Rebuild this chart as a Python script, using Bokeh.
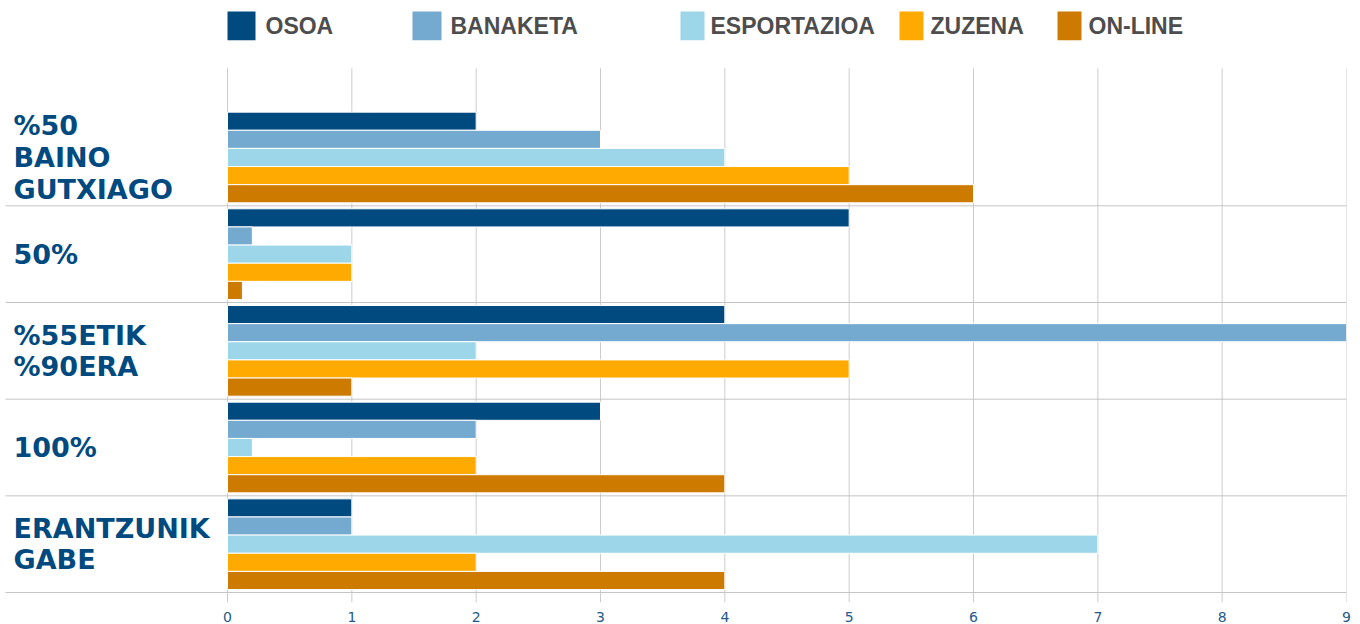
from bokeh.plotting import figure
from bokeh.models import Range1d, FixedTicker, ColumnDataSource
from bokeh.core.properties import value
from bokeh.embed import file_html
from bokeh.resources import INLINE

# ---- data ----
categories = ["%50\nBAINO\nGUTXIAGO", "50%", "%55ETIK\n%90ERA", "100%", "ERANTZUNIK\nGABE"]
series = ["OSOA", "BANAKETA", "ESPORTAZIOA", "ZUZENA", "ON-LINE"]
osoa = [2, 5, 4, 3, 1]
banaketa = [3, 0.2, 9, 2, 1]
esportazioa = [4, 1, 2, 0.2, 7]
zuzena = [5, 1, 5, 2, 2]
online = [6, 0.12, 1, 4, 4]
tick_values = [0, 1, 2, 3, 4, 5, 6, 7, 8, 9]

colors = ["#004A80", "#74AAD0", "#9CD6E8", "#FFAA00", "#CC7A00"]
values = [osoa, banaketa, esportazioa, zuzena, online]

# ---- layout helpers (reference px -> data units) ----
PXU = (1346 - 227) / 9.0
BAND = 97.0
def X(px):
    return (px - 227) / PXU
def Y(py):
    return (594 - py) / BAND

W, H = 1352, 624
FRAME_BOTTOM = 604
p = figure(width=W, height=H, output_backend="svg", toolbar_location=None,
           x_range=Range1d(X(0), 9), y_range=Range1d(Y(FRAME_BOTTOM), Y(0)),
           y_axis_location=None, min_border_left=0, min_border_top=0,
           min_border_right=W - 1346, min_border_bottom=H - FRAME_BOTTOM)
p.outline_line_color = None
p.xgrid.visible = False
p.ygrid.visible = False
p.background_fill_color = "white"
p.border_fill_color = "white"

# axis
ax = p.xaxis[0]
ax.ticker = FixedTicker(ticks=tick_values)
ax.axis_line_color = None
ax.major_tick_line_color = None
ax.minor_tick_line_color = None
ax.major_label_text_font = "DejaVu Sans"
ax.major_label_text_font_size = "14px"
ax.major_label_text_color = "#245a8a"
ax.major_label_standoff = 3

# vertical gridlines
n = len(categories)
p.segment(x0=tick_values, x1=tick_values, y0=[Y(FRAME_BOTTOM)] * len(tick_values),
          y1=[Y(68)] * len(tick_values), line_color="#cccccc", line_width=1)

# horizontal separators (bottom of each band)
p.segment(x0=[X(5)] * n, x1=[9] * n, y0=list(range(n)), y1=list(range(n)),
          line_color="#c4c4c4", line_width=1)

# bars
pad = 3 / BAND
bh = (1 - 2 * pad) / 5
for si, (name, col, vals) in enumerate(zip(series, colors, values)):
    ys = []
    for k in range(n):
        b = n - 1 - k
        ys.append(b + 1 - pad - bh * (si + 0.5))
    src = ColumnDataSource(dict(y=ys, right=vals))
    p.hbar(y="y", left=0, right="right", height=bh, source=src,
           fill_color=col, line_color="white", line_width=1)

# category labels
p.text(x=[X(13)] * n, y=[n - 1 - k + 0.5 for k in range(n)], text=categories,
       text_font=value("DejaVu Sans"), text_font_style="bold",
       text_font_size="27px", text_color="#004A80", text_baseline="middle",
       text_align="left", text_line_height=1.02)

# legend (manual, top)
sq_x = [227, 412, 680, 899, 1057]
sq_w = [28, 29, 24, 24, 24]
tx_x = [265, 450, 710, 930, 1088]
p.block(x=[X(a) for a in sq_x], y=[Y(40)] * 5,
        width=[w / PXU for w in sq_w], height=[29 / BAND] * 5,
        fill_color=colors, line_color=None)
p.text(x=[X(a) for a in tx_x], y=[Y(26)] * 5, text=series,
       text_font=value("Liberation Sans"), text_font_style="bold",
       text_font_size="23px", text_color="#4d4d4d", text_baseline="middle",
       text_align="left")

open("out.html", "w").write(file_html(p, INLINE))
